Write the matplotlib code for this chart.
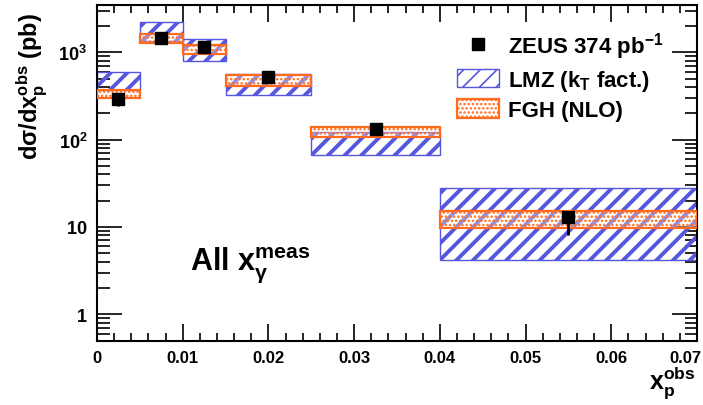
import matplotlib
matplotlib.use("Agg")
import matplotlib.pyplot as plt
from matplotlib.patches import Rectangle, Patch
from matplotlib.lines import Line2D
from matplotlib.ticker import FixedLocator, MultipleLocator, LogLocator, NullFormatter
import matplotlib.transforms as mtrans

# ---- data ----
bin_edges = [0.0, 0.005, 0.01, 0.015, 0.025, 0.04, 0.07]
zeus_x = [0.0025, 0.0075, 0.0125, 0.02, 0.0325, 0.055]
zeus_y = [290, 1450, 1140, 516, 131, 13.0]
zeus_err_lo = [50, 60, 50, 20, 6, 5.0]
zeus_err_hi = [20, 60, 50, 20, 6, 2.2]
lmz_lo = [370, 1350, 790, 320, 67, 4.2]
lmz_hi = [590, 2240, 1420, 560, 122, 28.0]
fgh_lo = [300, 1270, 955, 410, 107, 9.8]
fgh_hi = [370, 1620, 1220, 550, 140, 15.2]
xticks = [0, 0.01, 0.02, 0.03, 0.04, 0.05, 0.06, 0.07]
xticklabels = ["0", "0.01", "0.02", "0.03", "0.04", "0.05", "0.06", "0.07"]
yticks = [1, 10, 100, 1000]
yticklabels = [r"$\mathbf{1}$", r"$\mathbf{10}$", r"$\mathbf{10^{2}}$", r"$\mathbf{10^{3}}$"]

BLUE = "#5656de"
ORANGE = "#ff6a1c"

plt.rcParams["font.family"] = ["Liberation Sans", "DejaVu Sans"]
plt.rcParams["font.weight"] = "bold"
plt.rcParams["mathtext.fontset"] = "custom"
plt.rcParams["mathtext.rm"] = "Liberation Sans:bold"
plt.rcParams["mathtext.it"] = "Liberation Sans:bold"
plt.rcParams["mathtext.bf"] = "Liberation Sans:bold"
plt.rcParams["mathtext.sf"] = "Liberation Sans:bold"

BLUE_HLW = 2.8
ORANGE_HLW = 1.2


def set_hlw(p, lw):
    if hasattr(p, "set_hatch_linewidth"):
        p.set_hatch_linewidth(lw)
    return p


fig = plt.figure(figsize=(7.03, 4.06), dpi=100)
ax = fig.add_axes([97 / 703, 1 - 341.5 / 406, 600 / 703, (341.5 - 6) / 406])
ax.set_yscale("log")
ax.set_xlim(0, 0.07)
ax.set_ylim(0.5, 3480)

plt.rcParams["hatch.linewidth"] = BLUE_HLW
for i in range(len(zeus_x)):
    x0, x1 = bin_edges[i], bin_edges[i + 1]
    p = Rectangle((x0, lmz_lo[i]), x1 - x0, lmz_hi[i] - lmz_lo[i],
                  facecolor="none", edgecolor=BLUE, hatch="//", linewidth=1.0, zorder=2)
    ax.add_patch(set_hlw(p, BLUE_HLW))
plt.rcParams["hatch.linewidth"] = ORANGE_HLW
for i in range(len(zeus_x)):
    x0, x1 = bin_edges[i], bin_edges[i + 1]
    p = Rectangle((x0, fgh_lo[i]), x1 - x0, fgh_hi[i] - fgh_lo[i],
                  facecolor=(1, 1, 1, 0.35), edgecolor=ORANGE, hatch="....", linewidth=1.6, zorder=3)
    ax.add_patch(set_hlw(p, ORANGE_HLW))

ax.errorbar(zeus_x, zeus_y, yerr=[zeus_err_lo, zeus_err_hi], fmt="s", color="black",
            markersize=8, elinewidth=2, capsize=0, zorder=5)

# ticks
ax.xaxis.set_major_locator(FixedLocator(xticks))
ax.set_xticklabels(xticklabels)
ax.xaxis.set_minor_locator(MultipleLocator(0.002))
ax.yaxis.set_major_locator(FixedLocator(yticks))
ax.set_yticklabels(yticklabels)
ax.yaxis.set_minor_locator(LogLocator(base=10, subs=range(2, 10), numticks=20))
ax.yaxis.set_minor_formatter(NullFormatter())
ax.tick_params(which="both", direction="in", top=True, right=True, width=1.2)
ax.tick_params(which="major", length=12, labelsize=12, pad=7)
ax.tick_params(which="minor", length=6)
ax.tick_params(axis="y", which="major", length=18, labelsize=13)
ax.tick_params(axis="y", which="minor", length=9)
for s in ax.spines.values():
    s.set_linewidth(1.5)
for lab in ax.get_xticklabels() + ax.get_yticklabels():
    lab.set_fontweight("bold")
last = ax.get_xticklabels()[-1]
last.set_transform(last.get_transform() + mtrans.ScaledTranslation(-12 / 100, 0, fig.dpi_scale_trans))

ax.set_ylabel(r"d$\sigma$/dx$_{\mathbf{p}}^{\mathbf{obs}}$ (pb)", fontsize=17, fontweight="bold")
ax.yaxis.set_label_coords(-0.08, 0.76)
fig.text(0.99, 0.012, r"x$_{\mathbf{p}}^{\mathbf{obs}}$", fontsize=18, fontweight="bold",
         ha="right", va="bottom")
ax.text(0.0108, 3.7, r"All x$_{\gamma}^{\mathbf{meas}}$", fontsize=22, fontweight="bold",
        ha="left", va="center")

hb = set_hlw(Patch(facecolor="none", edgecolor=BLUE, hatch="//", linewidth=1.0), BLUE_HLW)
ho = set_hlw(Patch(facecolor="none", edgecolor=ORANGE, hatch="....", linewidth=1.6), ORANGE_HLW)
handles = [Line2D([], [], marker="s", color="black", linestyle="none", markersize=8), hb, ho]
labels = [r"ZEUS 374 pb$^{\mathbf{-1}}$", r"LMZ (k$_{\mathbf{T}}$ fact.)", "FGH (NLO)"]
leg = ax.legend(handles, labels, loc="upper left", bbox_to_anchor=(0.567, 0.985), frameon=False,
                handlelength=1.9, handleheight=0.9, handletextpad=0.4,
                labelspacing=0.3, prop={"weight": "bold", "size": 16})

fig.savefig("out.png", dpi=100)
